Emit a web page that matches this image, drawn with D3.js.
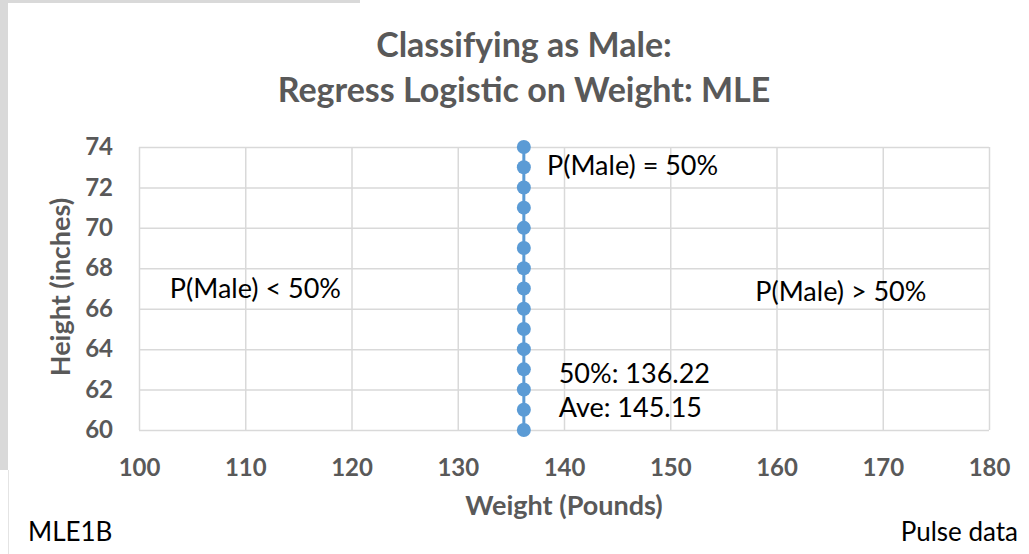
<!DOCTYPE html>
<html><head><meta charset="utf-8">
<script src="https://cdn.jsdelivr.net/npm/d3@7"></script>
<style>body{margin:0;background:#fff}svg{display:block}</style>
</head><body>
<script>
const heights = [60,61,62,63,64,65,66,67,68,69,70,71,72,73,74];
const weight50 = 136.22;
const weightAve = 145.15;
const xTicks = [100,110,120,130,140,150,160,170,180];
const yTicks = [60,62,64,66,68,70,72,74];
const titleLines = ["Classifying as Male:", "Regress Logistic on Weight: MLE"];
const annotations = [
  {text:"P(Male) = 50%", x:138.4, y:72.61},
  {text:"P(Male) < 50%", x:102.9, y:66.53},
  {text:"P(Male) > 50%", x:158.0, y:66.38},
  {text:"50%: 136.22", x:139.5, y:62.33},
  {text:"Ave: 145.15", x:139.5, y:60.64}
];

const W=1029,H=554;
const svg=d3.select("body").append("svg").attr("width",W).attr("height",H);
const font="Lato, 'Open Sans', sans-serif";
// screenshot frame
svg.append("rect").attr("x",0).attr("y",0).attr("width",8).attr("height",470).attr("fill","#d9d9d9");
svg.append("rect").attr("x",0).attr("y",0).attr("width",360).attr("height",3).attr("fill","#d9d9d9");
svg.append("line").attr("x1",8.5).attr("x2",8.5).attr("y1",470).attr("y2",H).attr("stroke","#e4e4e4").attr("stroke-width",1);

const x=d3.scaleLinear().domain([100,180]).range([139,989]);
const y=d3.scaleLinear().domain([60,74]).range([430,147]);

const g=svg.append("g");
// gridlines
g.append("g").attr("transform","translate(0,147)")
 .call(d3.axisBottom(x).tickValues(xTicks).tickSize(430-147).tickFormat(""))
 .call(a=>{a.select(".domain").remove();a.selectAll("line").attr("stroke","#d9d9d9").attr("stroke-width",1.5);});
g.append("g").attr("transform","translate(139,0)")
 .call(d3.axisRight(y).tickValues(yTicks).tickSize(989-139).tickFormat(""))
 .call(a=>{a.select(".domain").remove();a.selectAll("line").attr("stroke","#d9d9d9").attr("stroke-width",1.5);});

// axis labels
const xa=svg.append("g").attr("transform","translate(0,430)")
 .call(d3.axisBottom(x).tickValues(xTicks).tickSize(0).tickPadding(29).tickFormat(d3.format("d")));
xa.select(".domain").remove();
xa.selectAll("text").attr("font-family",font).attr("font-size",24).attr("font-weight","bold").attr("fill","#595959");
const ya=svg.append("g").attr("transform","translate(139,0)")
 .call(d3.axisLeft(y).tickValues(yTicks).tickSize(0).tickPadding(26).tickFormat(d3.format("d")));
ya.select(".domain").remove();
ya.selectAll("text").attr("font-family",font).attr("font-size",24).attr("font-weight","bold").attr("fill","#595959");

// series
const line=d3.line().x(()=>x(weight50)).y(d=>y(d));
svg.append("path").datum(heights).attr("d",line).attr("fill","none").attr("stroke","#5b9bd5").attr("stroke-width",3);
svg.selectAll("circle.pt").data(heights).join("circle").attr("class","pt")
 .attr("cx",x(weight50)).attr("cy",d=>y(d)).attr("r",7).attr("fill","#5b9bd5");

// annotations
svg.selectAll("text.ann").data(annotations).join("text").attr("class","ann")
 .attr("x",d=>x(d.x)).attr("y",d=>y(d.y))
 .attr("font-family",font).attr("font-size",27).attr("fill","#000").text(d=>d.text);

// titles
svg.selectAll("text.title").data(titleLines).join("text").attr("class","title")
 .attr("x",524).attr("y",(d,i)=>57+i*45).attr("text-anchor","middle")
 .attr("font-family",font).attr("font-size",34).attr("font-weight","bold").attr("fill","#595959").text(d=>d);

svg.append("text").attr("x",564).attr("y",515).attr("text-anchor","middle")
 .attr("font-family",font).attr("font-size",27).attr("font-weight","bold").attr("fill","#595959").text("Weight (Pounds)");
svg.append("text").attr("transform","translate(70,287) rotate(-90)").attr("text-anchor","middle")
 .attr("font-family",font).attr("font-size",27).attr("font-weight","bold").attr("fill","#595959").text("Height (inches)");

svg.append("text").attr("x",28).attr("y",541).attr("font-family",font).attr("font-size",26).attr("fill","#000").text("MLE1B");
svg.append("text").attr("x",1018).attr("y",541).attr("text-anchor","end").attr("font-family",font).attr("font-size",26).attr("fill","#000").text("Pulse data");
</script>
</body></html>
